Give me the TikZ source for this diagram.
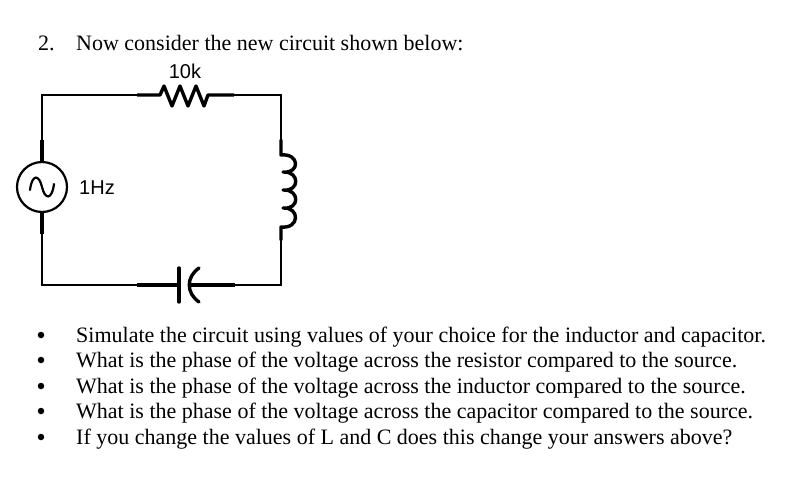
\documentclass[tikz,border=0pt]{standalone}
\usepackage{fontspec}
\setmainfont{Liberation Serif}
\newfontfamily\lsans{Liberation Sans}
\begin{document}
\begin{tikzpicture}[x=1pt,y=-1pt,
  wire/.style={line width=1.5pt},
  lead/.style={line width=3.4pt},
  body/.style={font=\fontsize{22}{24}\selectfont, anchor=base west, inner sep=0pt},
  bul/.style={circle,fill,inner sep=0pt,minimum size=6.5pt},
  lab/.style={font=\lsans\fontsize{20}{22}\selectfont, inner sep=0pt}]
\useasboundingbox (0,0) rectangle (790,485);
\coordinate (tl) at (42,95); \coordinate (tr) at (281,95);
\coordinate (bl) at (42,285); \coordinate (br) at (281,285);
% wires
\draw[wire] (42,142) -- (tl) -- (137,95);
\draw[wire] (234,95) -- (tr) -- (281,142);
\draw[wire] (281,240) -- (br) -- (235,285);
\draw[wire] (137,285) -- (bl) -- (42,232);
% source
\node[circle,draw,line width=2.2pt,minimum size=50pt,inner sep=0pt] (src) at (42,187) {};
\draw[lead] (42,140) -- (src.north); \draw[lead] (src.south) -- (42,234);
\draw[line width=2.2pt,line cap=round] (30,190) .. controls (32,174) and (39,174) .. (42,187) .. controls (45,200) and (52,200) .. (54,184);
\node[lab,anchor=west] (f) at (79,188) {1Hz};
% resistor
\draw[lead,line join=round] (137,95) -- (160,95) -- (164,86) -- (172,106) -- (180,86) -- (188,106) -- (196,86) -- (204,106) -- (208,95) -- (234,95);
\node[lab] (r) at (185,71) {10k};
% inductor
\draw[lead,line cap=round,line join=round] (281,140) -- (281,155)
  .. controls (300,153) and (300,174) .. (283,172)
  .. controls (300,171) and (300,192) .. (283,190)
  .. controls (300,189) and (300,210) .. (283,208)
  .. controls (300,207) and (300,229) .. (281,227) -- (281,240);
% capacitor
\draw[lead] (137,285) -- (178,285);
\draw[lead,line cap=round] (179,268) -- (179,302);
\draw[lead,line cap=round] (199,268) .. controls (186,277) and (186,293) .. (199,302);
\draw[lead] (189,285) -- (235,285);
% text
\node[body] (t0) at (38,50) {2.};
\node[body] (t1) at (76,50) {Now consider the new circuit shown below:};
\foreach \y/\t in {342/Simulate the circuit using values of your choice for the inductor and capacitor.,
  367/What is the phase of the voltage across the resistor compared to the source.,
  393/What is the phase of the voltage across the inductor compared to the source.,
  418/What is the phase of the voltage across the capacitor compared to the source.,
  444/If you change the values of L and C does this change your answers above?}{
  \node[bul] at (41,\y-7) {};
  \node[body] at (76,\y) {\t};
}
\end{tikzpicture}
\end{document}
